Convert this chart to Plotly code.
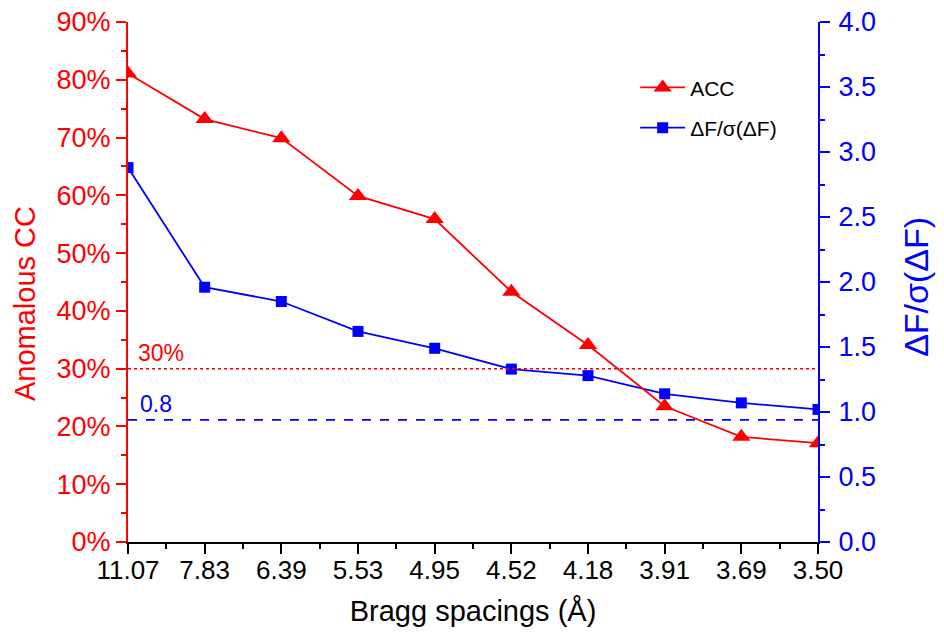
import plotly.graph_objects as go

categories = ["11.07", "7.83", "6.39", "5.53", "4.95", "4.52", "4.18", "3.91", "3.69", "3.50"]
acc = [81.1, 73.2, 69.9, 59.9, 55.9, 43.3, 34.1, 23.5, 18.2, 17.1]
dfsig = [2.88, 1.96, 1.85, 1.62, 1.49, 1.33, 1.28, 1.14, 1.07, 1.02]
acc_threshold = 30
dfsig_threshold_pos = 0.94
dfsig_threshold_label = "0.8"

xpos = list(range(len(categories)))
RED = "#ff0000"
BLUE = "#0000ff"
FONT = "Liberation Sans, Arial, sans-serif"

fig = go.Figure()
fig.add_trace(go.Scatter(
    x=xpos, y=dfsig, name="ΔF/σ(ΔF)", mode="lines+markers", yaxis="y",
    line=dict(color=BLUE, width=1.8), marker=dict(symbol="square", size=11, color=BLUE),
    legendrank=2, legendgroup="b"))
fig.add_trace(go.Scatter(
    x=xpos, y=acc, name="ACC", mode="lines+markers", yaxis="y2",
    line=dict(color=RED, width=1.8), marker=dict(symbol="triangle-up", size=16, color=RED),
    legendrank=1, legendgroup="a"))

fig.add_shape(type="line", xref="x", yref="y2", x0=0, x1=9, y0=acc_threshold, y1=acc_threshold,
              line=dict(color=RED, width=1.5, dash="dot"))
fig.add_shape(type="line", xref="x", yref="y", x0=0, x1=9, y0=dfsig_threshold_pos, y1=dfsig_threshold_pos,
              line=dict(color=BLUE, width=1.8, dash="dash"))

fig.add_annotation(x=0.1, y=acc_threshold, xref="x", yref="y2", text=f"{acc_threshold}%",
                   showarrow=False, xanchor="left", yanchor="bottom", yshift=1,
                   font=dict(color=RED, size=23, family=FONT))
fig.add_annotation(x=0.13, y=dfsig_threshold_pos, xref="x", yref="y", text=dfsig_threshold_label,
                   showarrow=False, xanchor="left", yanchor="bottom", yshift=1,
                   font=dict(color=BLUE, size=23, family=FONT))

# axis titles as annotations for exact placement
fig.add_annotation(x=-0.149, y=0.458, xref="paper", yref="paper", text="Anomalous CC",
                   textangle=-90, showarrow=False, xanchor="center", yanchor="middle",
                   font=dict(color=RED, size=29, family=FONT))
fig.add_annotation(x=1.143, y=0.49, xref="paper", yref="paper", text="ΔF/σ(ΔF)",
                   textangle=-90, showarrow=False, xanchor="center", yanchor="middle",
                   font=dict(color=BLUE, size=34, family=FONT))

fig.update_layout(
    width=944, height=638,
    margin=dict(l=120, r=134, t=14, b=104, autoexpand=False),
    paper_bgcolor="white", plot_bgcolor="white",
    font=dict(family=FONT, size=24, color="black"),
    showlegend=True,
    legend=dict(x=0.735, y=0.913, xanchor="left", yanchor="top", bgcolor="rgba(0,0,0,0)",
                font=dict(size=21, family=FONT), itemwidth=45, tracegroupgap=10),
    xaxis=dict(
        range=[0, 9], tickmode="array", tickvals=xpos, ticktext=categories,
        showgrid=False, zeroline=False, showline=True, linecolor="black", linewidth=2,
        ticks="outside", ticklen=10, tickcolor="black", tickwidth=1.5,
        minor=dict(ticks="outside", ticklen=5, dtick=0.5, tick0=0, tickcolor="black"),
        tickfont=dict(size=26, color="black"), ticklabeloverflow="allow",
        ticklabelstandoff=-6,
        title=dict(text="Bragg spacings (Å)", font=dict(size=29, color="black"), standoff=16),
    ),
    yaxis=dict(
        side="right", range=[0, 4], dtick=0.5, tickformat=".1f",
        showgrid=False, zeroline=False, showline=True, linecolor=BLUE, linewidth=2,
        ticks="outside", ticklen=10, tickcolor=BLUE, tickwidth=1.5,
        minor=dict(ticks="outside", ticklen=5, dtick=0.25, tickcolor=BLUE),
        tickfont=dict(size=27, color=BLUE), ticklabeloverflow="allow",
        ticklabelstandoff=3,
    ),
    yaxis2=dict(
        overlaying="y", side="left", range=[0, 90], dtick=10, ticksuffix="%",
        showgrid=False, zeroline=False, showline=True, linecolor=RED, linewidth=2,
        ticks="outside", ticklen=10, tickcolor=RED, tickwidth=1.5,
        minor=dict(ticks="outside", ticklen=5, dtick=5, tickcolor=RED),
        tickfont=dict(size=27, color=RED), ticklabeloverflow="allow",
    ),
)

fig.write_html("out.html")
